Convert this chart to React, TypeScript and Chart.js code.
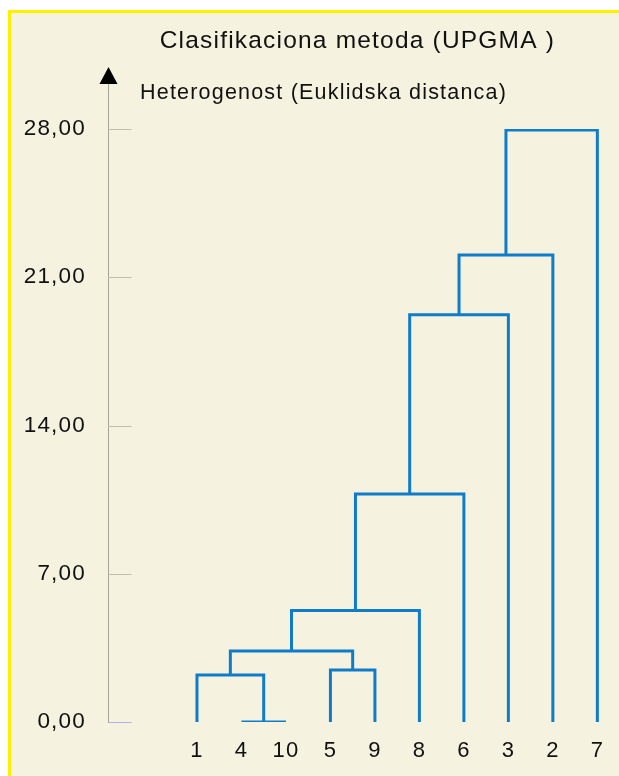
import React, { useEffect, useRef } from "react";
import { Chart, registerables } from "chart.js";

Chart.register(...registerables);

// ---- data ----
const leaves = ["1", "4", "10", "5", "9", "8", "6", "3", "2", "7"];
// merge k creates cluster "m{k+1}"
const mergeLeft = ["4", "1", "5", "m2", "m4", "m5", "m6", "m7", "m8"];
const mergeRight = ["10", "m1", "9", "m3", "8", "6", "3", "2", "7"];
const mergeHeight = [0.0, 2.22, 2.46, 3.35, 5.26, 10.76, 19.23, 22.05, 27.95];
const yTicks = [0, 7, 14, 21, 28];
const titleText = "Clasifikaciona metoda (UPGMA )";
const axisCaption = "Heterogenost (Euklidska distanca)";

const FONT = "'Liberation Sans', Arial, Helvetica, sans-serif";
const BLUE = "#0F7CC9";
const TEXT = "#111111";

function buildSegments() {
  const pos: Record<string, { x: number; y: number }> = {};
  leaves.forEach((l, i) => {
    pos[l] = { x: i, y: 0 };
  });
  const segs: { x: number; y: number }[][] = [];
  mergeHeight.forEach((h, k) => {
    const a = pos[mergeLeft[k]];
    const b = pos[mergeRight[k]];
    segs.push([
      { x: a.x, y: a.y },
      { x: a.x, y: h },
      { x: b.x, y: h },
      { x: b.x, y: b.y },
    ]);
    pos["m" + (k + 1)] = { x: (a.x + b.x) / 2, y: h };
  });
  return segs;
}

const axisDecor = {
  id: "axisDecor",
  beforeDraw(chart: any) {
    chart.ctx.letterSpacing = "1.2px";
  },
  afterDraw(chart: any) {
    const { ctx, chartArea, scales } = chart;
    const y = scales.y;
    const x0 = Math.round(chartArea.left) + 0.5;
    const top = chartArea.top;
    ctx.save();
    // caption of the vertical axis, next to the arrow
    ctx.letterSpacing = "1.2px";
    ctx.fillStyle = TEXT;
    ctx.font = "21.5px " + FONT;
    ctx.textAlign = "left";
    ctx.textBaseline = "alphabetic";
    ctx.fillText(axisCaption, chartArea.left + 32, top - 30);
    ctx.letterSpacing = "0px";
    ctx.lineWidth = 1;
    yTicks.forEach((v) => {
      const py = Math.round(y.getPixelForValue(v)) + 0.5;
      ctx.strokeStyle = v === 0 ? "#B2B2E8" : "#C2BDAD";
      ctx.beginPath();
      ctx.moveTo(x0, py);
      ctx.lineTo(x0 + 23, py);
      ctx.stroke();
    });
    ctx.strokeStyle = "#A9A598";
    ctx.beginPath();
    ctx.moveTo(x0, top);
    ctx.lineTo(x0, top - 45);
    ctx.stroke();
    ctx.fillStyle = "#000";
    ctx.beginPath();
    ctx.moveTo(x0, top - 62);
    ctx.lineTo(x0 - 9, top - 45);
    ctx.lineTo(x0 + 9, top - 45);
    ctx.closePath();
    ctx.fill();
    ctx.restore();
  },
};

export default function App() {
  const ref = useRef<HTMLCanvasElement>(null);

  useEffect(() => {
    if (!ref.current) return;
    const segs = buildSegments();
    const chart = new Chart(ref.current, {
      type: "scatter",
      data: {
        datasets: segs.map((s) => ({
          data: s,
          showLine: true,
          borderColor: BLUE,
          backgroundColor: BLUE,
          borderWidth: 3,
          pointRadius: 0,
          pointHoverRadius: 0,
          tension: 0,
          fill: false,
          borderCapStyle: "butt",
          borderJoinStyle: "miter",
        })),
      },
      options: {
        responsive: false,
        animation: false,
        events: [],
        layout: { padding: { top: 0, left: 0, right: 12, bottom: 0 } },
        plugins: {
          legend: { display: false },
          tooltip: { enabled: false },
          title: {
            display: true,
            text: titleText,
            fullSize: false,
            color: TEXT,
            font: { family: FONT, size: 24.5, weight: "normal" },
            padding: { top: 13.3, bottom: 73.3 },
          },
        },
        scales: {
          x: {
            type: "linear",
            min: -2,
            max: 9.213,
            afterBuildTicks: (s: any) => {
              s.ticks = leaves.map((_, i) => ({ value: i }));
            },
            afterFit: (s: any) => {
              s.height = 54;
            },
            grid: { display: false, drawTicks: false },
            border: { display: false },
            ticks: {
              autoSkip: false,
              maxRotation: 0,
              minRotation: 0,
              padding: 15.3,
              color: TEXT,
              font: { family: FONT, size: 22 },
              callback: (v: any) => leaves[Math.round(Number(v))],
            },
          },
          y: {
            type: "linear",
            min: 0,
            max: 28,
            afterBuildTicks: (s: any) => {
              s.ticks = yTicks.map((v) => ({ value: v }));
            },
            afterFit: (s: any) => {
              s.width = 97;
            },
            grid: { display: false, drawTicks: false },
            border: { display: true, color: "#A9A598", width: 1 },
            ticks: {
              padding: 22,
              color: TEXT,
              font: { family: FONT, size: 22.5 },
              callback: (v: any) => Number(v).toFixed(2).replace(".", ","),
            },
          },
        },
      } as any,
      plugins: [axisDecor],
    });
    return () => chart.destroy();
  }, []);

  return (
    <div
      style={{
        position: "fixed",
        left: 8,
        top: 10,
        width: 611,
        height: 766,
        boxSizing: "border-box",
        borderTop: "3px solid #FFF000",
        borderLeft: "3px solid #FFF000",
        background: "#F5F2DF",
      }}
    >
      <canvas
        ref={ref}
        width={608}
        height={763}
        style={{ display: "block", width: 608, height: 763 }}
      />
    </div>
  );
}
